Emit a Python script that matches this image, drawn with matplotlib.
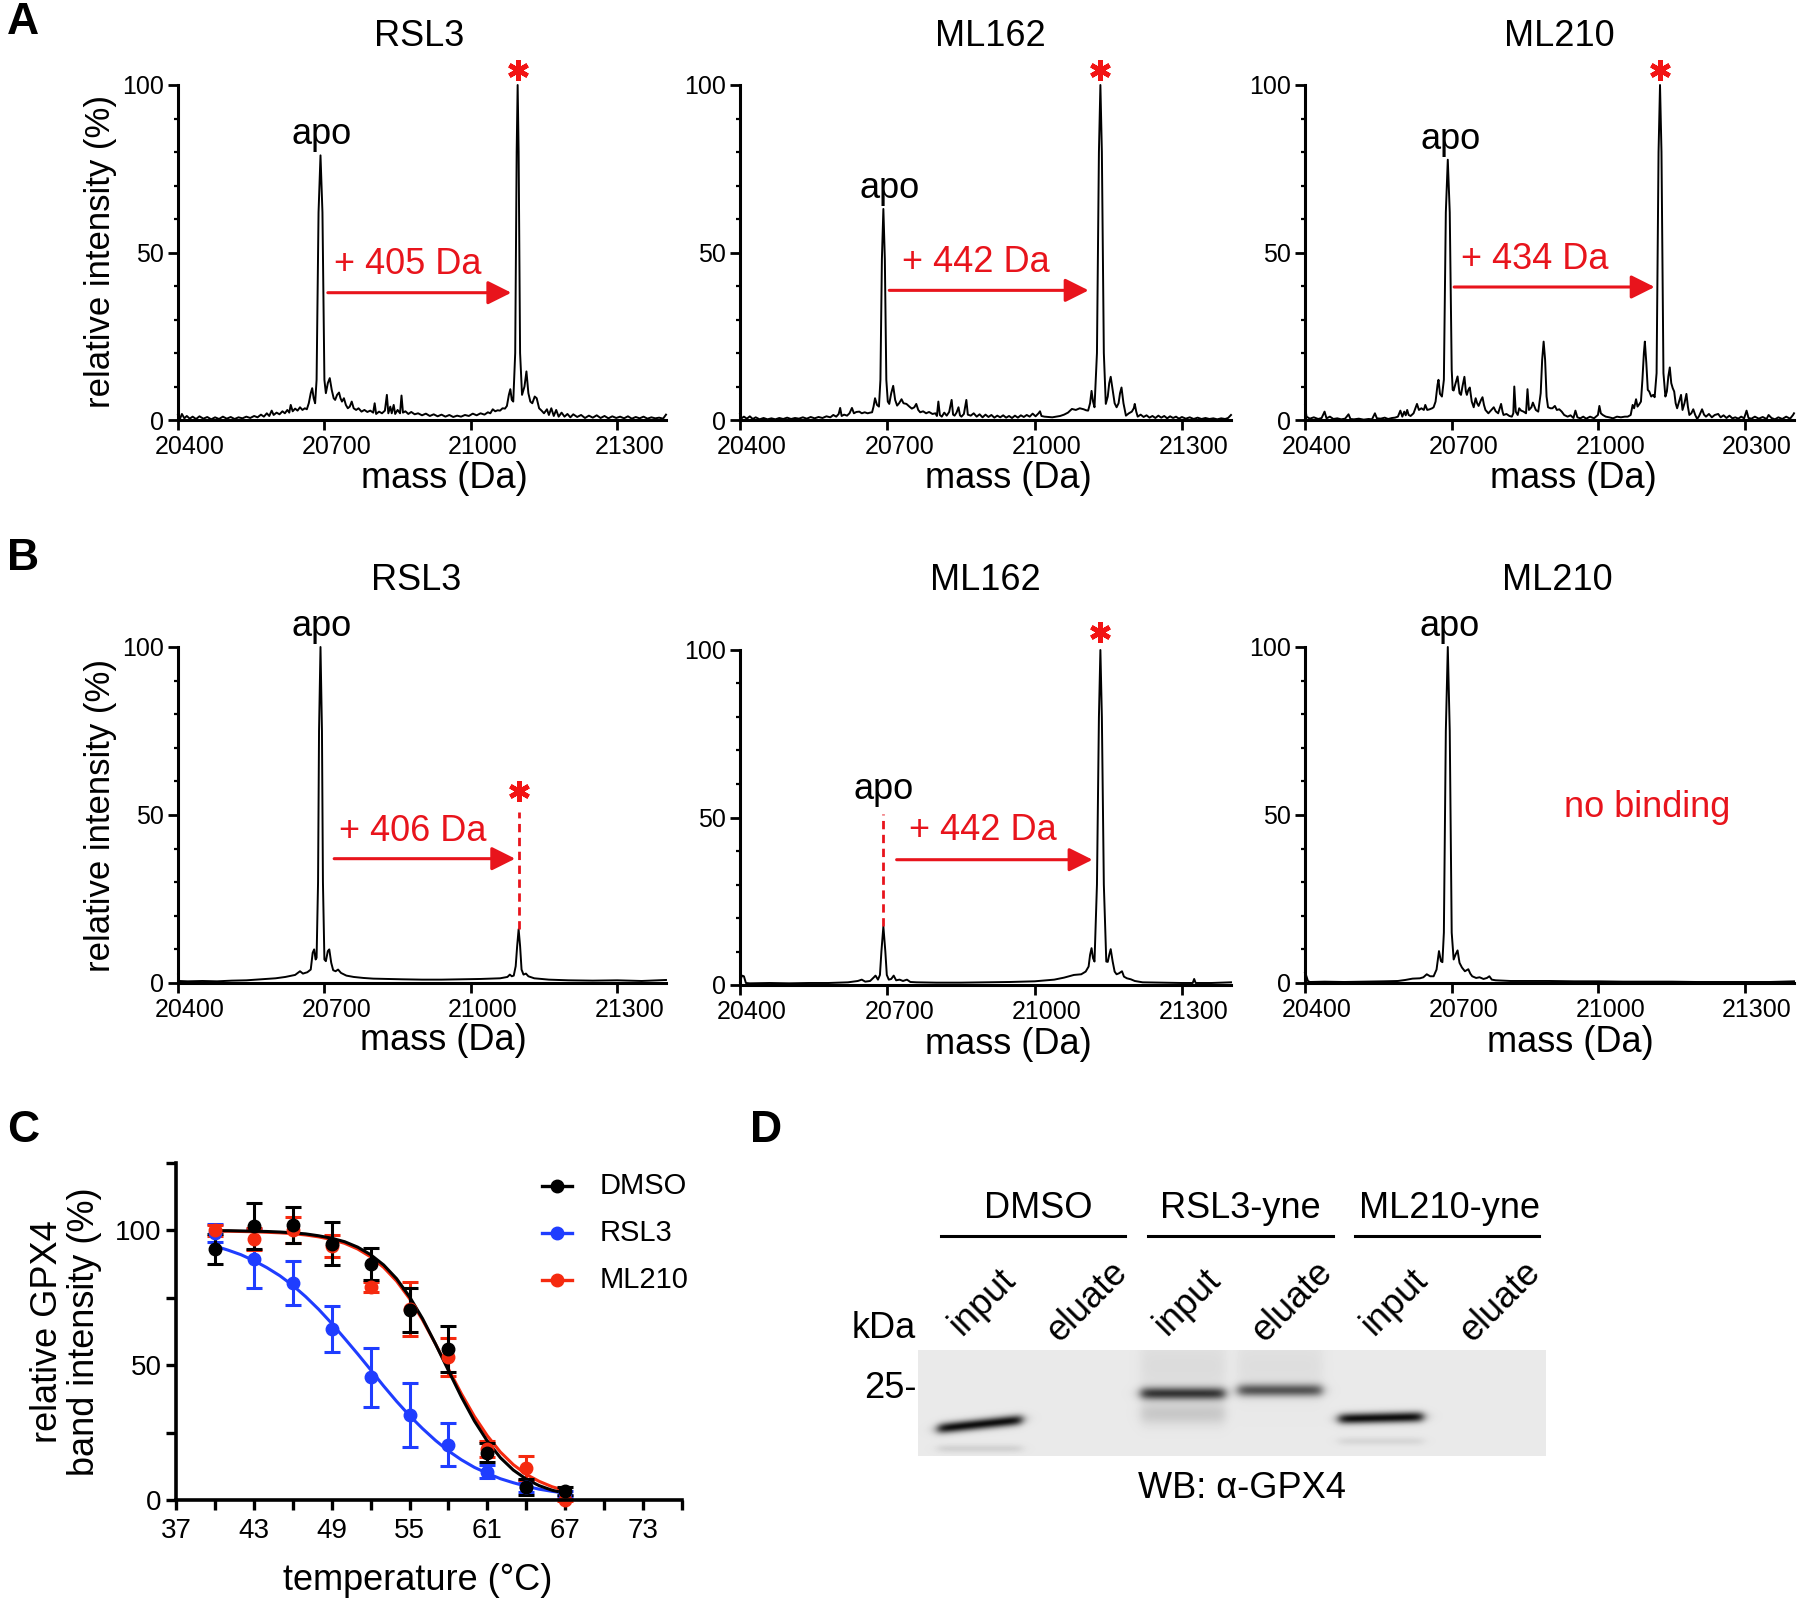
import matplotlib
matplotlib.use('Agg')
import matplotlib.pyplot as plt
import numpy as np
from matplotlib.ticker import FixedLocator, MultipleLocator
from matplotlib.transforms import ScaledTranslation

plt.rcParams['font.family'] = ['Liberation Sans', 'DejaVu Sans']

W, H = 1800, 1604
RED = '#E8141C'

# ---------------- panel A / B : deconvoluted spectra (mass Da, rel. intensity %)
a_rsl3 = [(20400,1.5),(20404,0.3),(20408,1.8),(20413,0.5),(20418,1.2),(20424,0.4),(20430,1.0),(20437,0.3),
          (20444,1.1),(20452,0.4),(20460,0.9),(20468,0.2),(20476,0.8),(20484,0.3),(20492,1.0),(20500,0.4),
          (20508,0.9),(20516,0.3),(20524,0.8),(20532,0.5),(20540,1.0),(20548,0.6),(20556,1.2),(20563,0.8),
          (20570,1.6),(20576,1.0),(20582,2.0),(20587,1.2),(20592,2.8),(20596,1.5),(20602,2.2),(20608,1.7),
          (20614,2.6),(20619,2.0),(20624,3.0),(20628,2.2),(20631,4.5),(20635,2.6),(20640,3.4),(20645,2.8),
          (20650,3.8),(20655,3.0),(20660,3.5),(20664,3.2),(20668,5.0),(20672,8.0),(20675,9.5),(20678,6.5),
          (20681,5.0),(20684,12),(20688,62),(20692,79),(20696,62),(20700,12),(20703,8),(20707,11),
          (20711,12.5),(20715,9),(20719,6.5),(20722,6),(20726,7.5),(20730,8.2),(20733,6.5),(20736,5.5),
          (20740,6.5),(20744,4.5),(20748,3.5),(20752,4.0),(20756,5.5),(20760,3.5),(20765,3.0),(20770,3.5),
          (20776,2.5),(20782,3.0),(20788,2.4),(20794,2.8),(20800,2.2),(20803,5.0),(20806,1.8),(20812,2.5),
          (20818,2.0),(20824,2.8),(20828,7.5),(20831,2.0),(20835,4.0),(20838,2.0),(20842,4.5),(20845,1.8),
          (20850,3.0),(20855,2.0),(20858,7.3),(20861,2.2),(20866,2.6),(20872,1.8),(20878,2.4),(20885,1.7),
          (20892,2.0),(20900,1.4),(20908,1.9),(20916,1.2),(20924,1.7),(20932,1.1),(20940,1.6),(20948,1.0),
          (20956,1.5),(20964,0.9),(20972,1.3),(20980,1.0),(20988,1.5),(20996,1.2),(21004,1.9),(21012,1.4),
          (21020,2.0),(21028,1.6),(21035,2.3),(21040,2.0),(21045,3.2),(21050,2.6),(21055,2.9),(21060,2.8),
          (21065,3.5),(21070,3.4),(21074,4.2),(21078,7.5),(21081,9.2),(21084,6.0),(21087,5.5),(21091,20),
          (21094,80),(21096,100),(21098,80),(21101,20),(21105,7.5),(21110,10),(21114,14.5),(21118,8),
          (21122,5.5),(21126,5),(21131,7.0),(21135,6.5),(21140,3.5),(21145,2.8),(21150,2.0),(21156,3.2),
          (21160,1.5),(21165,3.5),(21170,1.2),(21175,3.0),(21180,1.0),(21186,2.2),(21192,1.0),(21198,1.8),
          (21204,0.8),(21210,1.7),(21218,0.9),(21226,1.5),(21234,0.6),(21242,1.3),(21250,0.7),(21258,1.4),
          (21266,0.6),(21274,1.2),(21282,0.5),(21290,1.1),(21298,0.6),(21306,1.0),(21314,0.5),(21322,1.1),
          (21330,0.4),(21338,0.9),(21346,0.5),(21354,1.0),(21362,0.4),(21370,0.8),(21378,0.5),(21386,0.7),
          (21394,0.4),(21400,1.6)]

a_ml162 = [(20400,1.8),(20403,0.5),(20408,1.0),(20414,0.4),(20420,1.1),(20426,0.3),(20432,0.8),(20440,0.2),
           (20448,0.6),(20456,0.2),(20464,0.5),(20472,0.2),(20480,0.6),(20488,0.3),(20496,0.7),(20504,0.3),
           (20512,0.6),(20520,0.4),(20528,0.8),(20536,0.4),(20544,0.9),(20552,0.5),(20560,0.9),(20568,0.6),
           (20576,1.1),(20584,0.8),(20590,1.5),(20596,1.0),(20601,1.8),(20604,3.6),(20607,1.2),(20612,1.6),
           (20618,1.3),(20623,2.0),(20628,3.6),(20632,2.0),(20637,2.4),(20643,2.5),(20648,2.0),(20654,2.3),
           (20660,2.0),(20665,2.2),(20669,2.3),(20672,4.0),(20675,6.5),(20679,4.5),(20683,4.0),(20686,12),
           (20689,48),(20692,63),(20695,48),(20698,12),(20701,5.5),(20704,4.8),(20708,8),(20712,10.2),
           (20716,6),(20720,4.3),(20724,5),(20729,6.2),(20733,5),(20739,4.8),(20745,4.0),(20750,3.4),
           (20755,3.8),(20759,4.8),(20763,3.0),(20767,2.3),(20773,2.6),(20779,2.0),(20785,2.4),(20792,1.8),
           (20798,2.0),(20801,1.2),(20804,5.5),(20807,1.5),(20811,1.0),(20816,2.2),(20821,1.3),(20826,2.4),
           (20831,6.0),(20834,1.6),(20837,1.3),(20841,2.2),(20845,3.8),(20848,1.4),(20851,1.0),(20856,1.8),
           (20861,6.0),(20864,1.6),(20870,1.3),(20876,2.0),(20882,1.0),(20888,1.7),(20894,0.8),(20900,1.6),
           (20906,0.9),(20912,1.5),(20918,0.7),(20924,1.3),(20930,0.8),(20936,1.4),(20942,0.7),(20948,1.2),
           (20954,0.6),(20960,1.3),(20966,0.7),(20972,1.4),(20978,0.9),(20984,1.5),(20990,1.0),(20996,1.9),
           (21002,1.1),(21008,2.0),(21011,2.6),(21014,1.2),(21020,1.0),(21028,0.9),(21036,0.8),(21044,1.0),
           (21052,1.2),(21060,1.6),(21068,2.2),(21076,3.3),(21084,3.0),(21092,3.5),(21100,3.2),(21105,2.9),
           (21109,2.8),(21113,5),(21116,8.7),(21119,5.5),(21122,3.8),(21127,20),(21131,80),(21134,100),
           (21137,80),(21141,20),(21145,4.8),(21149,7),(21152,11),(21155,12.9),(21159,9),(21163,5),
           (21167,3.8),(21171,5),(21174,8),(21177,9.7),(21181,5),(21186,1.3),(21192,2),(21198,2.5),
           (21202,3.5),(21204,4.8),(21207,2.5),(21210,1.0),(21216,1.6),(21222,0.9),(21228,1.4),(21234,0.7),
           (21240,1.2),(21246,0.6),(21252,1.3),(21258,0.7),(21264,1.2),(21270,0.5),(21276,1.1),(21282,0.6),
           (21288,1.0),(21294,0.4),(21300,0.9),(21308,0.4),(21316,0.8),(21324,0.3),(21332,0.7),(21340,0.3),
           (21348,0.6),(21356,0.3),(21364,0.5),(21372,0.2),(21380,0.5),(21388,0.3),(21394,0.6),(21400,1.5)]

a_ml210 = [(20400,4.5),(20403,1.0),(20410,0.4),(20418,0.8),(20427,0.3),(20434,0.6),(20440,2.5),(20444,0.5),
           (20451,1.0),(20458,0.3),(20466,0.5),(20474,0.2),(20482,0.4),(20489,1.7),(20493,0.3),(20500,0.2),
           (20510,0.4),(20520,0.1),(20530,0.3),(20537,0.2),(20543,2.0),(20547,0.5),(20555,0.4),(20563,0.7),
           (20570,0.3),(20578,0.6),(20584,0.7),(20590,1.0),(20595,2.8),(20599,1.0),(20603,2.5),(20606,1.4),
           (20609,3.0),(20612,1.5),(20616,1.2),(20622,2.0),(20629,4.8),(20633,3.0),(20638,3.5),(20643,3.0),
           (20646,4.5),(20650,3.0),(20655,3.2),(20660,3.5),(20663,3.8),(20667,5.5),(20671,10.5),(20673,12),
           (20676,7.8),(20680,7.0),(20684,12),(20688,62),(20692,77.7),(20696,62),(20700,15),(20702,9),
           (20704,8.8),(20708,11),(20712,13),(20716,8.0),(20719,7.5),(20722,10),(20726,12.9),(20729,8.5),
           (20731,7.5),(20734,9),(20737,9.7),(20741,5.5),(20745,3.8),(20749,6.5),(20752,5.0),(20755,4.2),
           (20760,6.0),(20763,6.8),(20766,4.5),(20769,3.0),(20775,2.0),(20781,3.0),(20786,3.8),(20790,2.6),
           (20795,2.0),(20801,4.8),(20804,2.5),(20806,1.5),(20812,1.8),(20818,1.2),(20823,1.0),(20826,2.0),
           (20828,10),(20831,2.5),(20835,1.5),(20838,3.5),(20842,2.8),(20847,2.5),(20852,2.0),(20855,9.2),
           (20858,3.0),(20863,3.8),(20866,5.2),(20872,3.0),(20877,2.5),(20882,8),(20885,18),(20888,23.4),
           (20891,18),(20894,7),(20897,3.8),(20902,3.5),(20906,3.5),(20911,4.2),(20915,3.0),(20920,3.2),
           (20925,2.5),(20930,1.5),(20937,1.0),(20943,1.4),(20949,0.6),(20953,2.8),(20957,0.8),(20963,0.5),
           (20969,1.0),(20975,0.4),(20983,1.0),(20991,0.5),(20999,1.5),(21002,4.2),(21005,2.0),(21009,1.5),
           (21015,1.0),(21022,0.8),(21030,0.5),(21038,1.0),(21046,0.8),(21054,1.0),(21060,1.0),(21066,1.5),
           (21070,4.5),(21073,3.5),(21077,6.2),(21080,4.0),(21084,4.8),(21087,5.5),(21090,12),(21093,20),
           (21095,23.4),(21098,17),(21101,9),(21104,8.5),(21108,7),(21112,7.5),(21115,6.8),(21119,14),
           (21123,80),(21126,100),(21129,80),(21133,14),(21137,7.0),(21140,8.5),(21143,13),(21146,15.7),
           (21149,11),(21152,9.5),(21155,8.5),(21158,5.0),(21161,3.5),(21165,5.5),(21169,7.5),(21172,3.0),
           (21176,5.0),(21180,7.8),(21183,4.0),(21186,1.5),(21190,2.0),(21194,3.2),(21198,1.5),(21202,0.3),
           (21206,1.2),(21212,3.2),(21216,1.6),(21220,1.0),(21226,1.8),(21232,0.8),(21238,1.5),(21245,1.8),
           (21250,0.8),(21256,1.4),(21262,0.6),(21268,1.3),(21274,0.5),(21280,0.8),(21286,0.4),(21292,1.0),
           (21298,0.5),(21303,2.8),(21307,0.6),(21313,0.4),(21320,1.0),(21328,0.4),(21336,0.9),(21344,0.3),
           (21348,1.5),(21354,0.6),(21361,0.2),(21368,0.8),(21376,0.3),(21384,1.0),(21392,0.4),(21398,1.5),
           (21400,2.0)]

b_rsl3 = [(20400,2.5),(20402,0.6),(20420,0.5),(20450,0.6),(20480,0.5),(20510,0.7),(20540,0.8),(20570,1.1),
          (20600,1.4),(20620,1.8),(20640,2.4),(20650,3.5),(20656,2.8),(20665,3.2),(20672,4),(20676,9),
          (20679,10),(20682,7),(20684,7.5),(20687,30),(20689,75),(20692,100),(20695,75),(20697,30),
          (20700,7),(20703,6.5),(20707,9.5),(20710,10),(20714,6),(20718,3.8),(20723,3.5),(20728,4),
          (20734,3),(20745,2.2),(20760,1.8),(20780,1.5),(20800,1.3),(20830,1.2),(20860,1.1),(20900,1.0),
          (20940,1.0),(20980,1.1),(21020,1.2),(21060,1.4),(21075,1.8),(21080,2.5),(21084,2.0),(21088,2.2),
          (21092,5),(21095,11),(21098,16),(21101,11),(21104,4),(21108,2.5),(21113,2.8),(21118,2.0),
          (21130,1.4),(21160,1.0),(21200,0.8),(21250,0.7),(21300,0.8),(21350,0.6),(21400,0.9)]

b_ml162 = [(20400,1.0),(20404,2.8),(20408,2.6),(20412,0.6),(20420,0.5),(20460,0.6),(20500,0.5),(20540,0.6),
           (20580,0.6),(20620,0.8),(20640,1.2),(20648,1.6),(20655,1.0),(20665,1.2),(20672,2.2),(20676,2.8),
           (20681,1.6),(20685,3),(20688,10),(20692,17.5),(20696,10),(20699,3),(20703,1.6),(20708,1.8),
           (20713,2.8),(20718,1.4),(20725,1.6),(20732,1.2),(20740,1.6),(20747,0.9),(20760,0.8),(20800,0.7),
           (20850,0.7),(20900,0.8),(20950,0.9),(21000,1.1),(21040,1.6),(21060,2.2),(21080,3.0),(21095,3.2),
           (21104,4.0),(21110,5.5),(21113,9),(21116,11),(21119,8),(21122,7),(21127,30),(21131,80),
           (21134,100),(21137,80),(21141,30),(21146,7),(21149,6.9),(21152,9),(21155,10.7),(21159,7),
           (21163,4),(21167,3.2),(21172,3.5),(21178,4.1),(21182,2.5),(21188,2.0),(21196,1.7),(21204,1.2),
           (21220,0.8),(21260,0.7),(21300,0.6),(21322,0.6),(21325,1.8),(21328,0.6),(21360,0.6),(21400,0.8)]

b_ml210 = [(20400,3.0),(20402,2.4),(20406,0.6),(20410,0.3),(20440,0.4),(20480,0.3),(20520,0.4),(20560,0.5),
           (20590,0.6),(20605,0.9),(20620,1.3),(20635,1.4),(20642,1.7),(20649,2.6),(20656,2.0),(20663,2.0),
           (20669,4),(20674,9.5),(20678,6.5),(20681,6.2),(20684,15),(20688,75),(20692,100),(20696,75),
           (20700,15),(20704,7),(20708,8.5),(20712,9.7),(20716,6),(20721,4.6),(20727,3.5),(20734,4.1),
           (20738,2.8),(20742,2.0),(20750,1.5),(20757,1.7),(20765,1.2),(20772,1.5),(20777,2.0),(20782,1.0),
           (20790,0.8),(20820,0.6),(20860,0.6),(20900,0.6),(20950,0.5),(21000,0.5),(21050,0.4),(21100,0.4),
           (21150,0.4),(21200,0.3),(21250,0.3),(21300,0.3),(21350,0.3),(21400,0.5)]

mass_ticks = [20400, 20700, 21000, 21300]
mass_labels = ['20400', '20700', '21000', '21300']
mass_labels_a3 = ['20400', '20700', '21000', '20300']

# ---------------- panel C : thermal shift
temps = [40, 43, 46, 49, 52, 55, 58, 61, 64, 67]
dmso_mean = [93, 101.5, 102, 95, 87.5, 70.5, 56, 17.5, 4.8, 3.5]
dmso_sd = [5.5, 8.5, 6.5, 8, 6, 8, 8.5, 3.5, 3.0, 1.5]
rsl3_mean = [99, 89.5, 80.5, 63.5, 45.5, 31.5, 20.5, 10.5, 5.0, 2.5]
rsl3_sd = [3.2, 11, 8, 8.5, 11, 12, 8, 2.5, 2.0, 1.0]
ml210_mean = [100, 96.8, 100, 94.3, 79, 71, 53, 19, 12, 0]
ml210_sd = [2, 4, 4.8, 4, 2, 10, 7, 3, 4.5, 0.5]

fit_t = list(range(40, 68))
dmso_fit = [99.9, 99.9, 99.8, 99.7, 99.6, 99.4, 99.1, 98.7, 98.0, 97.1, 95.8, 93.8, 91.0, 87.2,
            82.1, 75.4, 67.3, 57.9, 48.0, 38.2, 29.3, 21.8, 15.7, 11.1, 7.7, 5.3, 3.6, 2.5]
ml210_fit = [99.7, 99.7, 99.6, 99.5, 99.3, 99.1, 98.8, 98.3, 97.6, 96.6, 95.2, 93.1, 90.2, 86.3,
             81.2, 74.7, 66.8, 57.9, 48.6, 39.4, 31.0, 23.8, 17.8, 13.1, 9.5, 6.9, 4.9, 3.5]
rsl3_fit = [94.2, 92.7, 91.0, 88.8, 86.2, 83.2, 79.6, 75.4, 70.7, 65.5, 59.9, 54.2, 48.3, 42.3,
            36.6, 31.3, 26.5, 22.1, 18.2, 14.9, 12.1, 9.9, 7.9, 6.4, 5.1, 4.0, 3.2, 2.6]

# ---------------- panel D : western blot bands
groups = ['DMSO', 'RSL3-yne', 'ML210-yne']
lanes = ['input', 'eluate', 'input', 'eluate', 'input', 'eluate']
band_lane = [0, 0, 2, 2, 3, 4, 4, 2, 3]
band_pos = [0.70, 0.93, 0.41, 0.60, 0.38, 0.64, 0.86, 0.15, 0.15]   # fraction of blot height
band_strength = [0.95, 0.10, 0.75, 0.14, 0.62, 0.95, 0.08, 0.06, 0.05]
band_sigma = [3.8, 3.0, 4.5, 8.0, 4.5, 3.8, 3.0, 22, 22]
band_tilt = [-4.5, 0, 0, 0, 0, -1, 0, 0, 0]

fig = plt.figure(figsize=(W / 100, H / 100), dpi=100)


def px_rect(left, top, right, bottom):
    return [left / W, 1 - bottom / H, (right - left) / W, (bottom - top) / H]


def style_axes(ax, lw):
    ax.spines[['top', 'right']].set_visible(False)
    for s in ['left', 'bottom']:
        ax.spines[s].set_linewidth(lw)
    ax.patch.set_alpha(0)


def spectrum(rect, spec, xlabels):
    ax = fig.add_axes(px_rect(*rect))
    mass, inten = zip(*spec)
    ax.plot(mass, inten, color='black', lw=1.4, clip_on=False)
    ax.set_xlim(20400, 21400)
    ax.set_ylim(0, 100)
    style_axes(ax, 2.2)
    ax.set_xticks(mass_ticks)
    ax.set_xticklabels(xlabels)
    ax.set_yticks([0, 50, 100])
    ax.yaxis.set_minor_locator(MultipleLocator(10))
    ax.tick_params(which='major', length=7, width=2.0, labelsize=18, pad=3)
    ax.tick_params(which='minor', length=3, width=1.6)
    ax.tick_params(axis='x', pad=4)
    # GraphPad puts the mass labels a little to the right of their ticks
    for lab in ax.get_xticklabels():
        lab.set_transform(lab.get_transform() + ScaledTranslation(0.12, 0, fig.dpi_scale_trans))
    return ax


def arrow(ax, x0, x1, y):
    ax.annotate('', xy=(x1, y), xytext=(x0, y),
                arrowprops=dict(arrowstyle='-|>,head_length=0.9,head_width=0.45',
                                color=RED, lw=2.2, shrinkA=0, shrinkB=0, mutation_scale=16))


def star(ax, x, y):
    ax.plot([x], [y], marker=(6, 2, 0), ms=15, mew=3.4, color='#F21414', clip_on=False)


def apo(ax, x, y):
    ax.text(x, y, 'apo', fontsize=26, ha='center', va='bottom', clip_on=False)


def shift_text(ax, x, y, s):
    ax.text(x, y, s, color=RED, fontsize=26, ha='center', va='center')


# ---- A row
ax = spectrum((178, 85, 666, 420), a_rsl3, mass_labels)
apo(ax, 20695, 80); star(ax, 21096, 104.5)
arrow(ax, 20707, 21083, 38); shift_text(ax, 20871, 46.5, '+ 405 Da')

ax = spectrum((740, 85, 1231, 420), a_ml162, mass_labels)
apo(ax, 20704, 64); star(ax, 21134, 104.5)
arrow(ax, 20704, 21110, 38.7); shift_text(ax, 20880, 47, '+ 442 Da')

ax = spectrum((1305, 85, 1794, 420), a_ml210, mass_labels_a3)
apo(ax, 20697, 78.5); star(ax, 21126, 104.5)
arrow(ax, 20705, 21115, 39.7); shift_text(ax, 20870, 48, '+ 434 Da')

# ---- B row
ax = spectrum((178, 647, 666, 983), b_rsl3, mass_labels)
apo(ax, 20695, 101)
ax.plot([21098, 21098], [16, 51], color=RED, lw=2, ls=(0, (3, 2)))
star(ax, 21098, 57)
arrow(ax, 20720, 21091, 37); shift_text(ax, 20882, 45, '+ 406 Da')

ax = spectrum((740, 650, 1231, 985), b_ml162, mass_labels)
apo(ax, 20692, 53)
ax.plot([20692, 20692], [17.5, 51], color=RED, lw=2, ls=(0, (3, 2)))
star(ax, 21134, 105.5)
arrow(ax, 20719, 21118, 37.4); shift_text(ax, 20894, 46, '+ 442 Da')

ax = spectrum((1305, 647, 1794, 983), b_ml210, mass_labels)
apo(ax, 20695, 101)
ax.text(21099, 52.3, 'no binding', color=RED, fontsize=26, ha='center', va='center')

# ---- C
axc = fig.add_axes(px_rect(176, 1163, 682, 1500))
series = [('RSL3', '#1F3DFF', rsl3_mean, rsl3_sd, rsl3_fit),
          ('ML210', '#F52A0F', ml210_mean, ml210_sd, ml210_fit),
          ('DMSO', 'black', dmso_mean, dmso_sd, dmso_fit)]
for name, col, mean, sd, fit in series:
    axc.plot(fit_t, fit, color=col, lw=2.2)
    axc.errorbar(temps, mean, yerr=sd, fmt='o', color=col, ms=9, elinewidth=2.2,
                 capsize=6, capthick=2.2, clip_on=False)
axc.set_xlim(37, 76)
axc.set_ylim(0, 125)
style_axes(axc, 2.6)
axc.xaxis.set_major_locator(FixedLocator([37, 43, 49, 55, 61, 67, 73]))
axc.xaxis.set_minor_locator(FixedLocator([40, 46, 52, 58, 64, 70, 76]))
axc.yaxis.set_major_locator(FixedLocator([0, 50, 100]))
axc.yaxis.set_minor_locator(FixedLocator([25, 75, 125]))
axc.tick_params(which='both', length=7, width=2.4, labelsize=20)
axc.tick_params(axis='x', pad=6)

# ---- overlay for free text, legend and blot
ov = fig.add_axes([0, 0, 1, 1])
ov.set_xlim(0, W)
ov.set_ylim(H, 0)
ov.axis('off')


def t(x, y, s, **kw):
    kw.setdefault('ha', 'center')
    kw.setdefault('va', 'center')
    ov.text(x, y, s, **kw)


for lab, x, y in [('A', 23, 22), ('B', 23, 558), ('C', 23, 1131), ('D', 766, 1131)]:
    t(x, y, lab, fontsize=32, fontweight='bold')

for name, x in [('RSL3', 419), ('ML162', 990), ('ML210', 1559)]:
    t(x, 37, name, fontsize=26)
for name, x in [('RSL3', 416), ('ML162', 985), ('ML210', 1557)]:
    t(x, 580, name, fontsize=26)

for x in [444, 1008, 1573]:
    t(x, 478, 'mass (Da)', fontsize=26)
for x, y in [(443, 1040), (1008, 1045), (1570, 1042)]:
    t(x, y, 'mass (Da)', fontsize=26)
for y in [252, 815]:
    t(101, y, 'relative intensity (%)', fontsize=25, rotation=90)

t(66, 1332, 'relative GPX4\nband intensity (%)', fontsize=26, rotation=90, linespacing=1.05)
t(418, 1581, 'temperature (°C)', fontsize=26)

for (name, col), y in zip([('DMSO', 'black'), ('RSL3', '#1F3DFF'), ('ML210', '#F52A0F')], [1186, 1233, 1280]):
    ov.plot([542, 572], [y, y], color=col, lw=2.4)
    ov.plot([557], [y], 'o', color=col, ms=9)
    t(600, y, name, fontsize=21, ha='left')

# blot
lane_x = [980, 1085, 1183, 1280, 1381, 1485]
bx0, bx1, by0, by1 = 918, 1546, 1350, 1456
X, Y = np.meshgrid(np.arange(bx0, bx1) + 0.5, np.arange(by0, by1) + 0.5)
dark = np.zeros_like(X)
for ln, pos, st, sg, tl in zip(band_lane, band_pos, band_strength, band_sigma, band_tilt):
    xc = lane_x[ln]
    yc = by0 + pos * (by1 - by0) + tl * (X - xc) / 42
    prof = 1 / (1 + np.exp(-(X - xc + 42) / 3)) / (1 + np.exp((X - xc - 42) / 3))
    dark += st * prof * np.exp(-0.5 * ((Y - yc) / sg) ** 2)
img = 0.915 - 0.9 * np.clip(dark, 0, 1)
ov.imshow(img, cmap='gray', vmin=0, vmax=1, extent=(bx0, bx1, by1, by0), origin='upper',
          aspect='auto', interpolation='bilinear')
ov.set_xlim(0, W)
ov.set_ylim(H, 0)

for g, x, (l0, l1) in zip(groups, [1038, 1240, 1449], [(941, 1125), (1148, 1333), (1355, 1539)]):
    t(x, 1208, g, fontsize=26)
    ov.plot([l0, l1], [1236, 1236], color='black', lw=2.2)
for lab, x in zip(lanes, [983, 1087, 1188, 1292, 1395, 1500]):
    t(x, 1302, lab, fontsize=26, rotation=45)
t(884, 1328, 'kDa', fontsize=26)
t(917, 1389, '25-', fontsize=26, ha='right')
t(1242, 1489, 'WB: α-GPX4', fontsize=26)

fig.savefig('out.png', dpi=100)
